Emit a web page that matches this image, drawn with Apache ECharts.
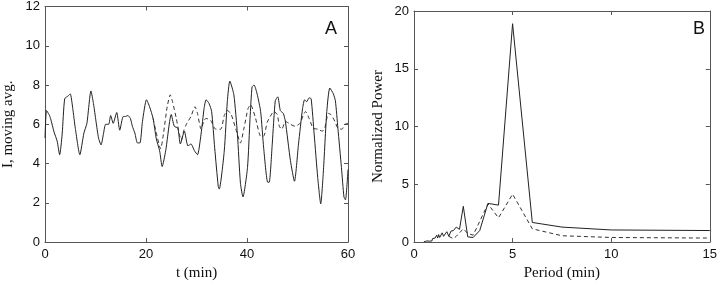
<!DOCTYPE html>
<html>
<head>
<meta charset="utf-8">
<script src="https://cdn.jsdelivr.net/npm/echarts@6/dist/echarts.min.js"></script>
<style>html,body{margin:0;padding:0;background:#fff}#c{width:720px;height:286px}</style>
</head>
<body>
<div id="c"></div>
<script>
// Panel A: moving average of I vs time (min)
const solidAT = [0,0.3,0.8,1.1,1.8,2.4,2.9,3.4,3.9,4.6,5.0,5.5,6.0,6.9,7.7,8.3,9.1,9.6,10.1,10.6,11.1,11.6,12.0,12.6,13.0,13.5,14.2,14.8,15.5,16.0,16.4,16.9,17.3,17.8,18.3,18.8,19.3,20.1,20.7,21.4,22.05,22.7,23.2,23.9,25.0,25.6,26.3,26.8,27.6,28.3,28.9,29.6,30.2,30.9,31.5,31.9,32.5,33.0,33.6,34.3,34.5,35.5,36.1,36.6,37.4,38.1,38.7,39.2,40.1,40.6,41.0,41.4,42.0,42.7,43.3,44.1,44.4,45.0,45.6,46.1,46.6,47.2,47.6,48.6,49.4,50.2,51.0,51.4,51.8,52.3,52.7,53.3,54.0,54.6,55.1,55.8,56.4,57.1,57.5,58.0,58.7,59.2,59.5,60.0];
const solidAV = [5.3,6.7,6.5,6.3,5.6,5.15,4.45,5.5,7.3,7.45,7.55,6.8,5.8,4.45,5.55,6.05,7.7,7.05,6.15,5.3,4.95,5.55,6.0,6.0,6.45,6.05,6.6,5.7,6.4,6.4,6.45,6.3,5.9,5.55,5.05,5.05,6.15,7.25,6.9,6.3,5.25,4.65,3.85,4.65,6.5,5.9,5.8,5.0,5.65,4.9,5.0,4.65,4.45,5.5,6.8,7.25,7.05,6.65,4.8,2.85,2.7,4.65,7.15,8.2,7.5,5.5,3.0,2.3,3.8,6.3,7.9,8.0,7.55,6.65,4.8,3.05,3.05,5.0,7.2,7.4,6.7,6.55,6.15,4.15,3.1,5.0,6.8,7.25,7.15,7.35,7.3,5.5,3.3,1.95,3.5,6.65,7.85,7.55,7.2,5.8,3.8,2.3,2.15,3.7];
const dashAT = [21.4,22.0,22.9,23.5,24.2,24.8,25.3,26.0,26.6,27.0,27.5,28.0,28.9,29.7,30.2,30.9,31.5,31.9,32.8,33.8,34.8,35.5,36.1,36.8,37.8,38.7,39.4,40.2,40.7,41.7,42.7,43.3,44.0,44.6,45.3,46.0,46.4,46.9,47.6,48.6,49.5,50.5,51.2,51.6,52.3,53.1,54.1,54.9,55.4,56.1,56.6,57.4,58.0,58.8,59.4,60.0];
const dashAV = [6.3,5.6,4.75,5.6,6.9,7.5,7.1,6.3,5.5,5.2,5.7,6.0,6.4,6.9,6.55,5.75,6.2,6.3,6.2,5.75,5.75,6.45,6.7,6.55,5.75,5.05,5.8,6.8,7.0,6.3,5.4,5.4,6.1,6.4,6.65,6.5,5.9,5.75,6.15,6.0,5.9,6.05,6.5,6.65,6.3,5.8,5.75,5.65,5.8,6.55,6.5,6.15,5.8,5.75,6.0,6.05];
const xTicksA = [0,20,40,60];
const yTicksA = [0,2,4,6,8,10,12];

// Panel B: normalized power vs period (min)
const solidBP = [0.5,0.55,0.6,0.65,0.7,0.75,0.8,0.857,0.882,0.909,0.9375,0.968,1.0,1.034,1.071,1.111,1.154,1.2,1.25,1.304,1.364,1.429,1.5,1.579,1.667,1.765,1.875,2.0,2.143,2.308,2.5,2.727,3.0,3.333,3.75,4.286,5.0,6.0,7.5,10.0,15.0];
const solidBV = [0.02,0.05,0.03,0.1,0.06,0.15,0.08,0.12,0.2,0.1,0.3,0.15,0.2,0.45,0.35,0.3,0.6,0.35,0.65,0.4,0.45,0.8,0.5,0.7,0.9,0.5,0.95,1.0,1.3,1.1,3.1,0.45,0.4,1.0,3.35,3.2,18.9,1.7,1.3,1.05,1.0];
const dashBP = [1.765,1.875,2.0,2.143,2.308,2.5,2.727,3.0,3.333,3.75,4.286,5.0,6.0,7.5,10.0,15.0];
const dashBV = [0.5,0.4,0.3,0.5,0.8,1.15,0.75,0.6,1.8,3.3,2.1,4.15,1.15,0.55,0.4,0.35];
const xTicksB = [0,5,10,15];
const yTicksB = [0,5,10,15,20];

const zip = (a, b) => a.map((v, i) => [v, b[i]]);
const frameColor = '#555';
const tickFont = {fontFamily: 'Liberation Sans', fontSize: 13, color: '#111'};
const nameFont = {fontFamily: 'Liberation Serif', fontSize: 15, color: '#111'};

function xAx(grid, ticks, pos, name) {
  const main = pos === 'bottom';
  return {
    type: 'value', gridIndex: grid, position: pos,
    min: ticks[0], max: ticks[ticks.length - 1], interval: ticks[1] - ticks[0],
    name: main ? name : '', nameLocation: 'middle', nameGap: 22, nameTextStyle: nameFont,
    axisLine: {show: true, onZero: false, lineStyle: {color: frameColor, width: 1}},
    axisTick: {show: true, inside: true, length: 4, lineStyle: {color: frameColor}},
    axisLabel: Object.assign({show: main, margin: 6}, tickFont),
    splitLine: {show: false}
  };
}
function yAx(grid, ticks, pos, name, gap) {
  const main = pos === 'left';
  return {
    type: 'value', gridIndex: grid, position: pos,
    min: ticks[0], max: ticks[ticks.length - 1], interval: ticks[1] - ticks[0],
    name: main ? name : '', nameLocation: 'middle', nameGap: gap, nameTextStyle: nameFont,
    axisLine: {show: true, onZero: false, lineStyle: {color: frameColor, width: 1}},
    axisTick: {show: true, inside: true, length: 4, lineStyle: {color: frameColor}},
    axisLabel: Object.assign({show: main, margin: 5}, tickFont),
    splitLine: {show: false}
  };
}

const chart = echarts.init(document.getElementById('c'), null, {renderer: 'canvas'});
chart.setOption({
  animation: false,
  backgroundColor: '#fff',
  grid: [
    {left: 43, width: 305, top: 6, height: 241},
    {left: 414, width: 299, top: 11, height: 236}
  ],
  xAxis: [
    xAx(0, xTicksA, 'bottom', 't (min)'),
    xAx(0, xTicksA, 'top', ''),
    xAx(1, xTicksB, 'bottom', 'Period (min)'),
    xAx(1, xTicksB, 'top', '')
  ],
  yAxis: [
    yAx(0, yTicksA, 'left', 'I, moving avg.', 29),
    yAx(0, yTicksA, 'right', '', 0),
    yAx(1, yTicksB, 'left', 'Normalized Power', 28),
    yAx(1, yTicksB, 'right', '', 0)
  ],
  graphic: [
    {type: 'text', left: 325, top: 20, style: {text: 'A', font: '18px "Liberation Sans"', fill: '#111'}},
    {type: 'text', left: 693, top: 20, style: {text: 'B', font: '18px "Liberation Sans"', fill: '#111'}}
  ],
  series: [
    {type: 'line', xAxisIndex: 0, yAxisIndex: 0, data: zip(dashAT, dashAV), showSymbol: false, smooth: 0.2,
     lineStyle: {color: '#333', width: 1, type: [4, 3]}, z: 2},
    {type: 'line', xAxisIndex: 0, yAxisIndex: 0, data: zip(solidAT, solidAV), showSymbol: false, smooth: 0.2,
     lineStyle: {color: '#222', width: 1}, z: 3},
    {type: 'line', xAxisIndex: 2, yAxisIndex: 2, data: zip(dashBP, dashBV), showSymbol: false,
     lineStyle: {color: '#333', width: 1, type: [4, 3]}, z: 2},
    {type: 'line', xAxisIndex: 2, yAxisIndex: 2, data: zip(solidBP, solidBV), showSymbol: false,
     lineStyle: {color: '#222', width: 1}, z: 3}
  ]
});
</script>
</body>
</html>
